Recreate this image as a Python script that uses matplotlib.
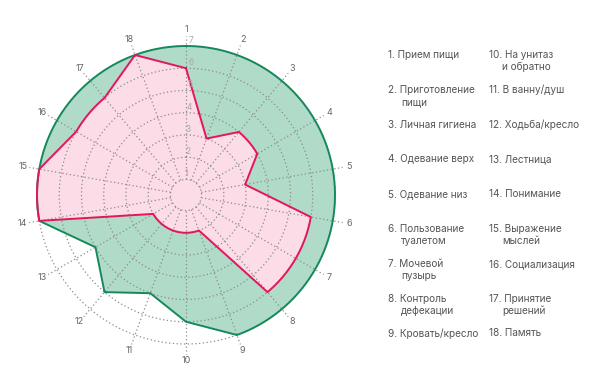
import numpy as np
import matplotlib
matplotlib.use('Agg')
import matplotlib.pyplot as plt

plt.rcParams['font.family'] = ['Inter', 'DejaVu Sans']

# scores per item (1..18)
labels = [str(i) for i in range(1, 19)]
max_scores = [7, 7, 7, 7, 7, 7, 7, 7, 7, 6, 5, 6, 5, 7, 7, 7, 7, 7]
patient = [6, 3, 4, 4, 3, 6, 6, 6, 2, 2, 2, 2, 2, 7, 7, 6, 6, 7]
rings = [1, 2, 3, 4, 5, 6, 7]

items_left = ["1. Прием пищи", "2. Приготовление\nпищи", "3. Личная гигиена",
              "4. Одевание верх", "5. Одевание низ", "6. Пользование\nтуалетом",
              "7. Мочевой\nпузырь", "8. Контроль\nдефекации", "9. Кровать/кресло"]
items_right = ["10. На унитаз\nи обратно", "11. В ванну/душ", "12. Ходьба/кресло",
               "13. Лестница", "14. Понимание", "15. Выражение\nмыслей",
               "16. Социализация", "17. Принятие\nрешений", "18. Память"]

GREEN_FILL = '#b0dbc8'
GREEN_LINE = '#16895c'
PINK_FILL = '#fbdce7'
RED_LINE = '#e2175b'
GRID = '#8c8c8c'

fig = plt.figure(figsize=(6, 3.86), dpi=100)
ax = fig.add_axes([37 / 600, 42 / 386, 298 / 600, 298 / 386], projection='polar')
ax.set_theta_zero_location('N')
ax.set_theta_direction(-1)
ax.set_ylim(0.3, 7)
ax.axis('off')

n = len(labels)
theta = np.arange(n) * 2 * np.pi / n


def polar_outline(vals):
    # closed outline: equal scores are joined by an arc, others by a straight line
    th = np.append(theta, 2 * np.pi)
    rv = np.append(vals, vals[0])
    ts, rs = [th[0]], [rv[0]]
    for i in range(n):
        if rv[i] == rv[i + 1]:
            seg = np.linspace(th[i], th[i + 1], 30)[1:]
            ts.extend(seg)
            rs.extend([rv[i]] * len(seg))
        else:
            ts.append(th[i + 1])
            rs.append(rv[i + 1])
    return np.array(ts), np.array(rs)


gt, gr = polar_outline(max_scores)
pt, pr = polar_outline(patient)
ax.fill(gt, gr, color=GREEN_FILL, zorder=1, lw=0, clip_on=False)
ax.plot(gt, gr, color=GREEN_LINE, lw=1.4, zorder=4, clip_on=False)
ax.fill(pt, pr, color=PINK_FILL, zorder=2, lw=0, clip_on=False)
ax.plot(pt, pr, color=RED_LINE, lw=1.4, zorder=5, clip_on=False)

# dotted grid on top of the fills
circ = np.linspace(0, 2 * np.pi, 361)
for r in rings:
    ax.plot(circ, np.full_like(circ, r), color=GRID, lw=0.9, ls=(0, (1, 2)), zorder=3,
            clip_on=False)
for t in theta:
    ax.plot([t, t], [1, 7.45], color=GRID, lw=0.9, ls=(0, (1, 2)), zorder=3, clip_on=False)

for t, lab in zip(theta, labels):
    ax.text(t, 7.75, lab, ha='center', va='center', fontsize=6.5, color='#666666',
            clip_on=False)
for r in rings:
    ax.text(0.035, r + 0.25, str(r), ha='center', va='center', fontsize=6,
            color='#a8a8a8', zorder=6)

# legend text in two columns
row_h = 34.8
for col_x, items in ((388, items_left), (489, items_right)):
    for i, item in enumerate(items):
        y = 55 + i * row_h
        lines = item.split('\n')
        fig.text(col_x / 600, 1 - y / 386, lines[0], fontsize=7.2, color='#555555',
                 ha='left', va='center')
        if len(lines) > 1:
            fig.text((col_x + 13) / 600, 1 - (y + 12) / 386, lines[1], fontsize=7.2,
                     color='#555555', ha='left', va='center')

fig.savefig('out.png', dpi=100)
